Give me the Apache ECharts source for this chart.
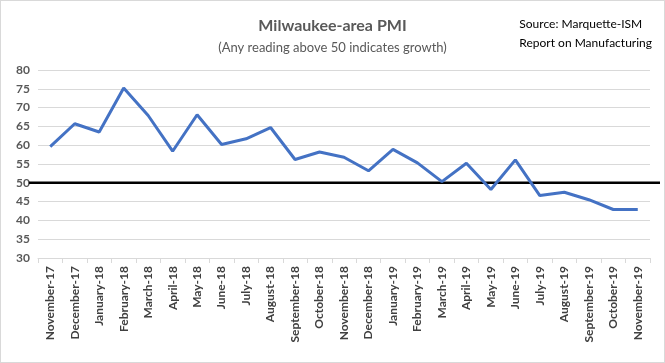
<!DOCTYPE html>
<html><head><meta charset="utf-8">
<script src="https://cdn.jsdelivr.net/npm/echarts@6/dist/echarts.min.js"></script>
<style>html,body{margin:0;padding:0;background:#fff}#c{width:665px;height:363px;box-sizing:border-box;border:1px solid #d9d9d9}</style>
</head><body><div id="c"></div>
<script>
const categories = ["November-17","December-17","January-18","February-18","March-18","April-18","May-18","June-18","July-18","August-18","September-18","October-18","November-18","December-18","January-19","February-19","March-19","April-19","May-19","June-19","July-19","August-19","September-19","October-19","November-19"];
const pmiValues = [59.6,65.7,63.5,75.2,67.9,58.4,68.1,60.2,61.7,64.7,56.2,58.2,56.8,53.2,58.9,55.3,50.3,55.2,48.2,56.1,46.6,47.5,45.5,42.9,42.9];
const thresholdValue = 50;
const yTicks = {min:30, max:80, interval:5};

const chart = echarts.init(document.getElementById('c'), null, {renderer:'canvas'});
const font = 'Lato, "Open Sans", sans-serif';
chart.setOption({
  animation:false,
  title:[
    {text:'Milwaukee-area PMI', left:'center', top:12, textStyle:{fontFamily:font, fontSize:16, fontWeight:'bold', color:'#595959'}},
    {text:'(Any reading above 50 indicates growth)', left:'center', top:35, textStyle:{fontFamily:font, fontSize:13, fontWeight:'normal', color:'#595959'}},
    {text:'Source: Marquette-ISM\nReport on Manufacturing', right:7, top:9, textStyle:{fontFamily:font, fontSize:12, fontWeight:'normal', color:'#000', lineHeight:19, align:'right'}}
  ],
  grid:[
    {left:37, right:14, top:69, bottom:104, containLabel:false},
    {left:28, right:4, top:69, bottom:104, containLabel:false}
  ],
  xAxis:[
    {type:'category', gridIndex:0, data:categories, boundaryGap:true,
     axisLine:{show:true, lineStyle:{color:'#d9d9d9', width:1}},
     axisTick:{show:true, alignWithLabel:false, length:5, lineStyle:{color:'#d9d9d9'}},
     axisLabel:{rotate:90, interval:0, fontFamily:font, fontSize:12, fontWeight:'bold', color:'#404040', margin:8}},
    {type:'value', gridIndex:1, min:0, max:1, show:false}
  ],
  yAxis:[
    {type:'value', gridIndex:0, min:yTicks.min, max:yTicks.max, interval:yTicks.interval,
     axisLine:{show:false}, axisTick:{show:false},
     splitLine:{lineStyle:{color:'#d9d9d9', width:1}},
     axisLabel:{fontFamily:font, fontSize:12, fontWeight:'bold', color:'#595959', margin:8}},
    {type:'value', gridIndex:1, min:yTicks.min, max:yTicks.max, show:false}
  ],
  series:[
    {type:'line', xAxisIndex:1, yAxisIndex:1, data:[[0,thresholdValue],[1,thresholdValue]], symbol:'none', lineStyle:{color:'#000', width:2.5}, silent:true, z:3},
    {type:'line', xAxisIndex:0, yAxisIndex:0, data:pmiValues, symbol:'none', lineStyle:{color:'#4472C4', width:3}, z:4}
  ]
});
</script></body></html>
